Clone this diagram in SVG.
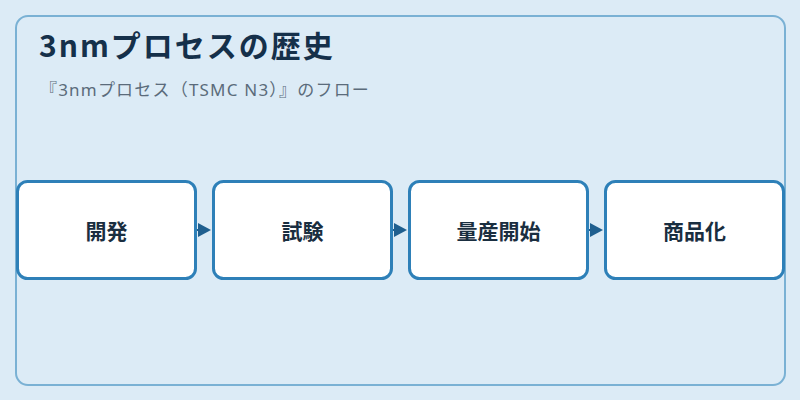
<svg xmlns="http://www.w3.org/2000/svg" width="800" height="400" viewBox="0 0 800 400">
<style>
.frame{fill:#dcebf6;stroke:#7ab1d4;stroke-width:2}
.node rect{fill:#ffffff;stroke:#2e80b8;stroke-width:3}
.node text{font-family:"Noto Sans CJK JP","Noto Sans",sans-serif;font-size:21px;font-weight:bold;fill:#1a2e40;text-anchor:middle}
.title{font-family:"Noto Sans CJK JP","Noto Sans",sans-serif;font-size:30px;font-weight:bold;letter-spacing:2px;fill:#15304a}
.sub{font-family:"Noto Sans","Noto Sans CJK JP",sans-serif;font-size:17px;letter-spacing:1.2px;fill:#5b6b7b}
.conn line{stroke:#1f5f8f;stroke-width:2}
</style>
<defs>
<marker id="arr" markerUnits="userSpaceOnUse" markerWidth="14" markerHeight="16" refX="0" refY="8" orient="auto">
<path d="M0,1 L13,8 L0,15 Z" fill="#1f5f8f"/>
</marker>
</defs>
<rect x="0" y="0" width="800" height="400" fill="#dcebf6"/>
<rect class="frame" x="16" y="16" width="769" height="369" rx="12"/>
<text class="title" x="39" y="57">3nmプロセスの歴史</text>
<text class="sub" x="40" y="96">『3nmプロセス（TSMC N3）』のフロー</text>
<g class="conn">
<line x1="197" y1="230" x2="198" y2="230" marker-end="url(#arr)"/>
<line x1="393" y1="230" x2="394" y2="230" marker-end="url(#arr)"/>
<line x1="589" y1="230" x2="590" y2="230" marker-end="url(#arr)"/>
</g>
<g id="n1" class="node"><rect x="17.5" y="181.5" width="178" height="97" rx="10"/><text x="106.5" y="239">開発</text></g>
<g id="n2" class="node"><rect x="213.5" y="181.5" width="178" height="97" rx="10"/><text x="302.5" y="239">試験</text></g>
<g id="n3" class="node"><rect x="409.5" y="181.5" width="178" height="97" rx="10"/><text x="498.5" y="239">量産開始</text></g>
<g id="n4" class="node"><rect x="605.5" y="181.5" width="178" height="97" rx="10"/><text x="694.5" y="239">商品化</text></g>
</svg>
